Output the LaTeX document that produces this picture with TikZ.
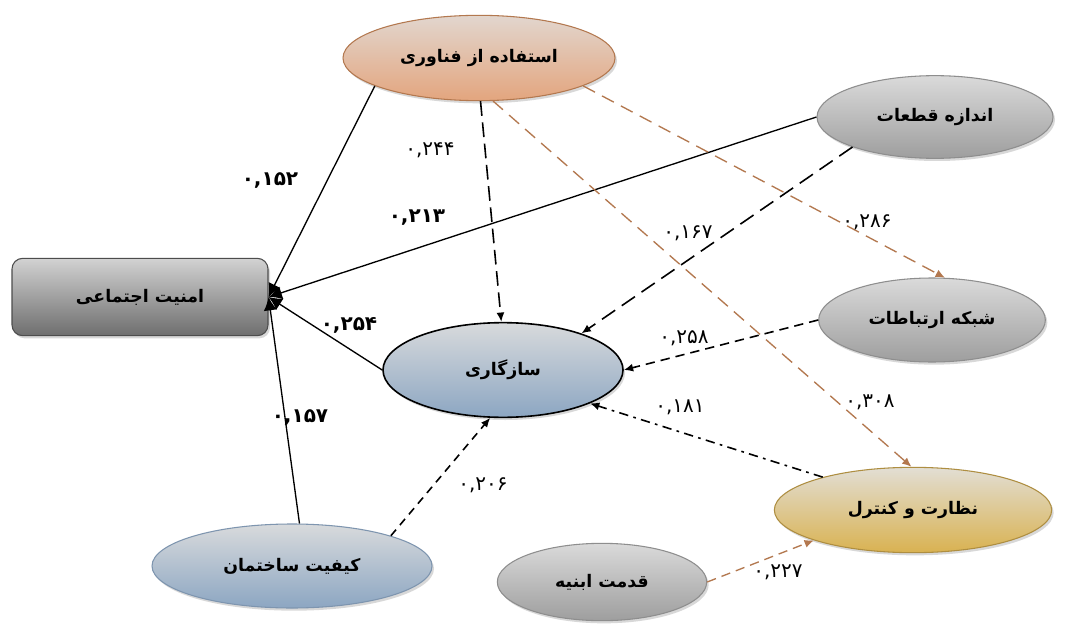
\documentclass[tikz,border=0pt]{standalone}
\usepackage{fontspec}
\usetikzlibrary{shapes.geometric,shadows,arrows.meta}
\newfontfamily\fafont[Script=Arabic]{DejaVu Sans}
\TeXXeTstate=1
\definecolor{brn}{HTML}{B3784F}
\definecolor{grytop}{HTML}{DADADA}
\definecolor{grybot}{HTML}{9E9E9E}
\definecolor{boxtop}{HTML}{D2D2D2}
\definecolor{boxbot}{HTML}{6E6E6E}
\definecolor{ortop}{HTML}{E2D6CE}
\definecolor{orbot}{HTML}{E3A57E}
\definecolor{bltop}{HTML}{D8DADC}
\definecolor{blbot}{HTML}{8CA6C2}
\definecolor{ydtop}{HTML}{E2DED4}
\definecolor{ydbot}{HTML}{D9B251}

\begin{document}
\begin{tikzpicture}[x=0.75pt,y=-0.75pt,
    var/.style={ellipse,inner sep=0pt,line width=0.8pt,
      font=\fafont\bfseries\fontsize{13}{15}\selectfont,
      drop shadow={opacity=0.3,shadow xshift=1.5pt,shadow yshift=-2pt}},
    grayvar/.style={var,draw=grybot!90!black,top color=grytop,bottom color=grybot},
    coef/.style={font=\fafont\fontsize{15}{17}\selectfont,inner sep=1pt},
    coefb/.style={font=\fafont\bfseries\fontsize{15}{17}\selectfont,inner sep=1pt},
    dep/.style={-{Latex[length=7pt,width=6pt]},line width=1pt},
    dsh/.style={dep,line width=1.2pt},
    blob/.style={-{Latex[length=10pt,width=10pt]},line width=1pt}]
    \fill[white] (0,0) rectangle (1070,624);
    \useasboundingbox (0,0) rectangle (1070,624);
    % variables
    \node[rectangle,rounded corners=8pt,minimum width=192pt,minimum height=58pt,
      draw=boxbot!70!black,line width=0.8pt,top color=boxtop,bottom color=boxbot,
      font=\fafont\bfseries\fontsize{13}{15}\selectfont,
      drop shadow={opacity=0.3,shadow xshift=1.5pt,shadow yshift=-2pt}]
      (amniat) at (140,297) {\beginR امنیت اجتماعی\endR};
    \node[var,draw=brn,top color=ortop,bottom color=orbot,minimum width=204pt,minimum height=64pt]
      (fanavari) at (479,58) {\beginR استفاده از فناوری\endR};
    \node[grayvar,minimum width=177pt,minimum height=62pt]
      (qataat) at (935,117) {\beginR اندازه قطعات\endR};
    \node[grayvar,minimum width=170pt,minimum height=63pt]
      (shabake) at (932,320) {\beginR شبکه ارتباطات\endR};
    \node[var,draw=black,line width=1.2pt,top color=bltop,bottom color=blbot,minimum width=180pt,minimum height=71pt]
      (sazgari) at (503,370) {\beginR سازگاری\endR};
    \node[var,draw=ydbot!80!black,top color=ydtop,bottom color=ydbot,minimum width=208pt,minimum height=64pt]
      (nezarat) at (913,510) {\beginR نظارت و کنترل\endR};
    \node[grayvar,minimum width=157pt,minimum height=58pt]
      (qedmat) at (602,582) {\beginR قدمت ابنیه\endR};
    \node[var,draw=blbot!90!black,top color=bltop,bottom color=blbot,minimum width=210pt,minimum height=63pt]
      (keyfiyat) at (292,566) {\beginR کیفیت ساختمان\endR};
    % paths
    \draw[blob] (fanavari.195) -- (amniat.east);
    \draw[blob] (qataat.west) -- (amniat.east);
    \draw[blob] (sazgari.west) -- (amniat.east);
    \draw[blob] (keyfiyat.80) -- (amniat.east);
    \draw[dsh,dash pattern=on 11pt off 5pt] (fanavari.272) -- (sazgari.92);
    \draw[dep,brn,dash pattern=on 10pt off 6pt] (fanavari.345) -- (shabake.73);
    \draw[dep,brn,dash pattern=on 10pt off 6pt] (fanavari.288) -- (nezarat.92);
    \draw[dsh,dash pattern=on 12pt off 6pt] (qataat.200) -- (sazgari.25);
    \draw[dsh,dash pattern=on 7pt off 4.5pt] (shabake.west) -- (sazgari.east);
    \draw[dsh,dash pattern=on 7pt off 4pt on 2pt off 4pt] (nezarat.160) -- (sazgari.339);
    \draw[dsh,dash pattern=on 6pt off 4.5pt] (keyfiyat.17) -- (sazgari.255);
    \draw[dep,brn,dash pattern=on 7pt off 4.5pt] (qedmat.east) -- (nezarat.197);
    % coefficients
    \node[coefb] (c1) at (270,180) {۰,۱۵۲};
    \node[coefb] (c2) at (417,218) {۰,۲۱۳};
    \node[coefb] (c3) at (349,325) {۰,۲۵۴};
    \node[coefb] (c4) at (300,417) {۰,۱۵۷};
    \node[coef] (c5) at (430,150) {۰,۲۴۴};
    \node[coef] (c6) at (867,222) {۰,۲۸۶};
    \node[coef] (c7) at (688,233) {۰,۱۶۷};
    \node[coef] (c8) at (684,338) {۰,۲۵۸};
    \node[coef] (c9) at (680,407) {۰,۱۸۱};
    \node[coef] (c10) at (870,402) {۰,۳۰۸};
    \node[coef] (c11) at (483,485) {۰,۲۰۶};
    \node[coef] (c12) at (778,572) {۰,۲۲۷};
  \end{tikzpicture}
\end{document}
